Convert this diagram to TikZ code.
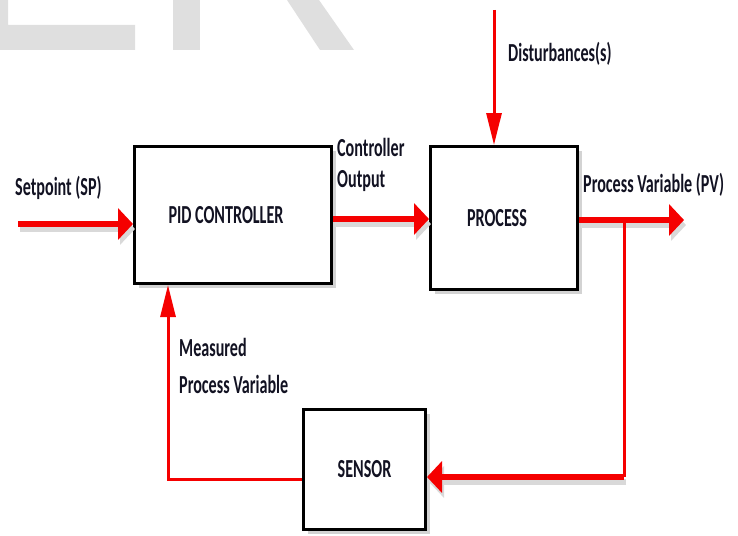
\documentclass[tikz,border=0pt]{standalone}
\usepackage{fontspec}
\newfontfamily\lblfont{Carlito}[FakeStretch=0.62]
\usetikzlibrary{arrows.meta,shadows}
\definecolor{wm}{HTML}{DFDFDF}
\definecolor{txt}{RGB}{18,18,34}
\definecolor{ared}{RGB}{245,0,0}
\begin{document}
\begin{tikzpicture}[x=1pt,y=-1pt,
 lbl/.style={font=\lblfont\bfseries\fontsize{26}{31}\selectfont, text=txt, inner sep=0pt},
 box/.style={draw=black, line width=3pt, fill=white, inner sep=0pt,
   drop shadow={shadow xshift=4pt, shadow yshift=-4pt, opacity=0.35}, lbl},
 thickarrow/.style={draw=ared, line width=6pt, -{Triangle[length=15pt,width=31pt]}},
 thinarrow/.style={draw=ared, line width=3pt, -{Triangle[length=32pt,width=15pt]}},
 thinline/.style={draw=ared, line width=3pt},
 ashadow/.style={draw=black!15, -{Triangle[length=15pt,width=31pt]}, line width=6pt,
   transform canvas={shift={(2pt,-5pt)}}},
]
\useasboundingbox (0,0) rectangle (738,535);
% watermark
\fill[wm] (0,0) -- (8,0) -- (8,25) -- (135,25) -- (135,50) -- (0,50) -- cycle;
\fill[wm] (173,0) rectangle (200,50);
\fill[wm] (287,0) -- (319,0) -- (354,50) -- (320,50) -- cycle;

% blocks
\node[box, minimum width=197pt, minimum height=137pt] (pid) at (233,215) {PID CONTROLLER\hspace*{14pt}};
\node[box, minimum width=147pt, minimum height=143pt] (proc) at (504,218) {PROCESS\hspace*{14pt}};
\node[box, minimum width=122pt, minimum height=120pt] (sens) at (364.5,469.5) {SENSOR};

% labels
\node[lbl, anchor=base west] (splbl) at (15,195) {Setpoint (SP)};
\node[lbl, anchor=north west, align=left] (colbl) at (337,138) {Controller\\Output};
\node[lbl, anchor=base west] (pvlbl) at (583,192) {Process Variable (PV)};
\node[lbl, anchor=base west] (dlbl) at (508,62) {Disturbances(s)};
\node[lbl, anchor=north west, align=left, font=\lblfont\bfseries\fontsize{26}{37}\selectfont] (mlbl) at (179,338) {Measured\\Process Variable};

% coordinates
\coordinate (sp) at (18,224);
\coordinate (co) at (400,219);
\coordinate (pvend) at (684,220);
\coordinate (br) at (624,220);
\coordinate (brdown) at (624,477);
\coordinate (fb) at (168,479);
\coordinate (dist) at (494,10);

% arrow shadows
\draw[ashadow] (sp) -- (sp -| pid.west);
\draw[ashadow] (pid.east |- co) -- (co -| proc.west);
\draw[ashadow] (proc.east |- pvend) -- (pvend);
\draw[ashadow] (brdown) -- (brdown -| sens.east);

% connectors
\draw[thickarrow] (sp) -- (sp -| pid.west);
\draw[thickarrow] (pid.east |- co) -- (co -| proc.west);
\draw[thickarrow] (proc.east |- pvend) -- (pvend);
\draw[thinline] (br) -- (brdown);
\draw[thickarrow] (brdown) -- (brdown -| sens.east);
\draw[thinarrow] (sens.west |- fb) -- (fb) -- (fb |- pid.south);
\draw[thinarrow] (dist) -- (dist |- proc.north);
\end{tikzpicture}
\end{document}
